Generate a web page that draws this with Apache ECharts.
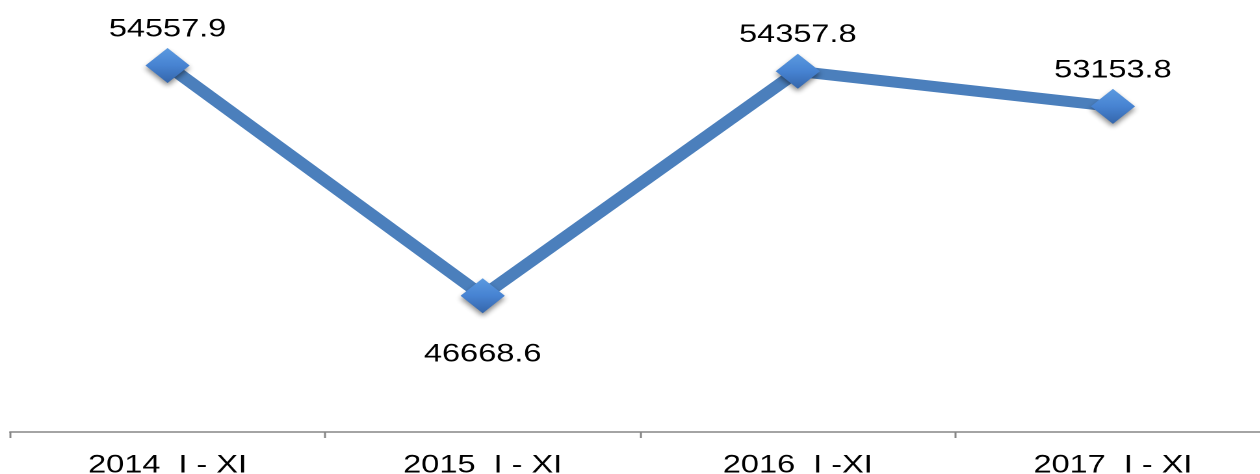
<!DOCTYPE html>
<html>
<head>
    <meta charset="utf-8">
    <title>ECharts</title>
    <script src="https://cdn.jsdelivr.net/npm/echarts@6/dist/echarts.min.js"></script>
    <style>
        html, body { margin: 0; padding: 0; overflow: hidden; background: #fff; }
        /* the reference picture is stretched sideways, so draw narrow and widen */
        #main { width: 985px; height: 474px; transform: scaleX(1.3); transform-origin: 0 0; }
    </style>
</head>
<body>
    <div id="main"></div>
    <script type="text/javascript">
        var categories = ['2014  I - XI', '2015  I - XI', '2016  I -XI', '2017  I - XI'];
        var values = [54557.9, 46668.6, 54357.8, 53153.8];
        var labelPositions = ['top', 'bottom', 'top', 'top'];

        var myChart = echarts.init(document.getElementById('main'), null, {devicePixelRatio: 2});

        var option = {
            animation: false,
            grid: {
                left: 7.7,
                top: 0,
                width: 969.6,
                height: 432,
                containLabel: false,
                outerBoundsMode: 'none'
            },
            xAxis: {
                type: 'category',
                data: categories,
                boundaryGap: true,
                axisLine: {
                    lineStyle: { color: '#868686', width: 1.5 }
                },
                axisTick: {
                    show: true,
                    length: 6,
                    lineStyle: { color: '#868686', width: 1.5 }
                },
                axisLabel: {
                    interval: 0,
                    margin: 21,
                    color: '#000',
                    fontSize: 25,
                    fontFamily: 'Liberation Sans, Arial, sans-serif'
                }
            },
            yAxis: {
                type: 'value',
                min: 42000,
                max: 56800,
                show: false,
                splitLine: { show: false }
            },
            series: [{
                type: 'line',
                data: values.map(function (v, i) {
                    return {
                        value: v,
                        label: {
                            position: labelPositions[i],
                            distance: labelPositions[i] === 'top' ? 6 : 29
                        }
                    };
                }),
                symbol: 'diamond',
                symbolSize: [34, 35],
                lineStyle: {
                    color: '#4b7fbc',
                    width: 11
                },
                itemStyle: {
                    color: new echarts.graphic.LinearGradient(0, 0, 0, 1, [
                        { offset: 0, color: '#5b9ae0' },
                        { offset: 0.5, color: '#4783d2' },
                        { offset: 1, color: '#3566ab' }
                    ]),
                    borderWidth: 0,
                    shadowColor: 'rgba(0,0,0,0.45)',
                    shadowBlur: 5,
                    shadowOffsetY: 3
                },
                label: {
                    show: true,
                    color: '#000',
                    fontSize: 25,
                    fontFamily: 'Liberation Sans, Arial, sans-serif'
                }
            }]
        };

        myChart.setOption(option);
    </script>
</body>
</html>
